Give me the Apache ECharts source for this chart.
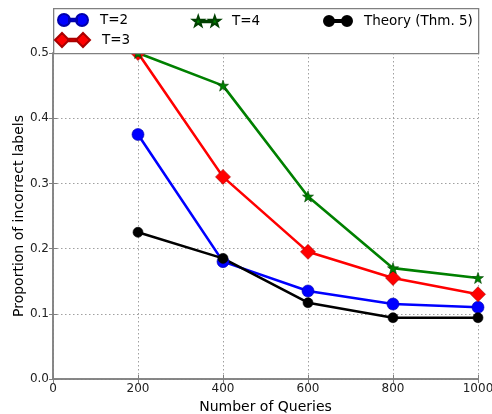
<!DOCTYPE html>
<html><head><meta charset="utf-8">
<script src="https://cdn.jsdelivr.net/npm/echarts@6/dist/echarts.min.js"></script>
<style>html,body{margin:0;padding:0;background:#fff}#c{width:492px;height:414px}</style>
</head><body><div id="c"></div>
<script>
const queries = [200, 400, 600, 800, 1000];
const t2 = [0.375, 0.18, 0.135, 0.115, 0.11];
const t3 = [0.5, 0.31, 0.195, 0.155, 0.13];
const t4 = [0.5, 0.45, 0.28, 0.17, 0.155];
const theory = [0.225, 0.185, 0.117, 0.094, 0.094];
const xTicks = [0, 200, 400, 600, 800, 1000];
const yTicks = [0.0, 0.1, 0.2, 0.3, 0.4, 0.5];

const FONT = 'DejaVu Sans';
const pair = (ys) => queries.map((x, i) => [x, ys[i]]);
const star = 'M5,0L6.18,3.38L9.76,3.45L6.9,5.62L7.94,9.05L5,7L2.06,9.05L3.1,5.62L0.24,3.45L3.82,3.38Z';
const icons = {
  circle: 'path://M0,6a6,6 0 1,0 12,0a6,6 0 1,0 -12,0zM18,6a6,6 0 1,0 12,0a6,6 0 1,0 -12,0zM11,4.8h8v2.4h-8z',
  diamond: 'path://M0,7L7,0L14,7L7,14zM21,7L28,0L35,7L28,14zM13,5.8h9v2.4h-9z',
  star: 'path://' + star + 'M20,0L21.18,3.38L24.76,3.45L21.9,5.62L22.94,9.05L20,7L17.06,9.05L18.1,5.62L15.24,3.45L18.82,3.38ZM8,4.3h9v1.4h-9z',
  oct: 'path://M0,5a5,5 0 1,0 10,0a5,5 0 1,0 -10,0zM18,5a5,5 0 1,0 10,0a5,5 0 1,0 -10,0zM9,4h10v2h-10z'
};
function mkLegend(name, icon, left, top, w, h) {
  return {data: [name], icon: icon, left: left, top: top, itemWidth: w, itemHeight: h,
    padding: 0, orient: 'horizontal', z: 200, selectedMode: false,
    textStyle: {fontFamily: FONT, fontSize: 13.5, color: '#000', padding: [0, 0, 0, 7]}};
}
function mkSeries(name, ys, color, symbol, size, border) {
  return {name: name, type: 'line', data: pair(ys), symbol: symbol, symbolSize: size,
    lineStyle: {color: color, width: 2.6}, itemStyle: {color: color, borderColor: border, borderWidth: 0.6},
    clip: true, animation: false, z: 3};
}
const chart = echarts.init(document.getElementById('c'), null, {renderer: 'canvas'});
chart.setOption({
  animation: false,
  backgroundColor: '#fff',
  grid: {left: 53, right: 14, top: 53, bottom: 35, containLabel: false, outerBoundsMode: 'none'},
  graphic: [{type: 'rect', left: 53, top: 8, shape: {width: 425, height: 45}, z: 100,
    style: {fill: '#fff', stroke: '#808080', lineWidth: 1.3}}],
  legend: [
    mkLegend('T=2', icons.circle, 57, 13, 30, 12),
    mkLegend('T=3', icons.diamond, 54, 32, 35, 14),
    mkLegend('T=4', icons.star, 192, 14, 27, 10),
    mkLegend('Theory (Thm. 5)', icons.oct, 323, 14, 28, 10)
  ],
  xAxis: [{type: 'value', min: 0, max: 1000, interval: 200,
    name: 'Number of Queries', nameLocation: 'middle', nameGap: 20,
    nameTextStyle: {fontFamily: FONT, fontSize: 14, color: '#000'},
    axisLine: {show: true, lineStyle: {color: '#808080', width: 1.5}},
    axisTick: {show: true, inside: true, length: 4, lineStyle: {color: '#808080'}},
    axisLabel: {fontFamily: FONT, fontSize: 12, color: '#222', margin: 4,
      formatter: v => xTicks.includes(v) ? String(v) : ''},
    splitLine: {show: true, lineStyle: {color: '#a0a0a0', type: [1.5, 2.5], width: 1}}},
   {type: 'value', min: 0, max: 1000, interval: 200, position: 'top',
    axisLine: {show: true, lineStyle: {color: '#808080', width: 1.5}},
    axisTick: {show: true, inside: true, length: 4, lineStyle: {color: '#808080'}},
    axisLabel: {show: false}, splitLine: {show: false}}],
  yAxis: [{type: 'value', min: 0, max: 0.5, interval: 0.1,
    name: 'Proportion of incorrect labels', nameLocation: 'middle', nameGap: 27, nameMoveOverlap: false,
    nameTextStyle: {fontFamily: FONT, fontSize: 14, color: '#000'},
    axisLine: {show: true, lineStyle: {color: '#808080', width: 1.5}},
    axisTick: {show: true, inside: true, length: 4, lineStyle: {color: '#808080'}},
    axisLabel: {fontFamily: FONT, fontSize: 12, color: '#222', margin: 4,
      formatter: v => yTicks.some(t => Math.abs(t - v) < 1e-9) ? v.toFixed(1) : ''},
    splitLine: {show: true, lineStyle: {color: '#a0a0a0', type: [1.5, 2.5], width: 1}}},
   {type: 'value', min: 0, max: 0.5, interval: 0.1, position: 'right',
    axisLine: {show: true, lineStyle: {color: '#808080', width: 1.5}},
    axisTick: {show: true, inside: true, length: 4, lineStyle: {color: '#808080'}},
    axisLabel: {show: false}, splitLine: {show: false}}],
  series: [
    mkSeries('T=2', t2, '#0000ff', 'circle', 12, '#0000aa'),
    mkSeries('T=3', t3, '#ff0000', 'diamond', 15, '#aa0000'),
    mkSeries('T=4', t4, '#008000', 'path://' + star, 11, '#004000'),
    mkSeries('Theory (Thm. 5)', theory, '#000000', 'circle', 10, '#000')
  ]
});
</script></body></html>
